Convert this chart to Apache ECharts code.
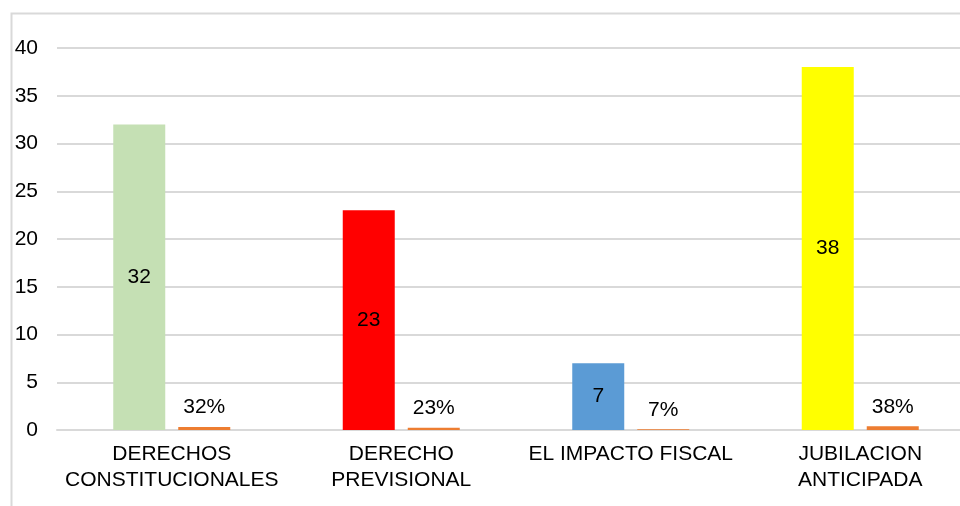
<!DOCTYPE html>
<html>
<head>
<meta charset="utf-8">
<script src="https://cdn.jsdelivr.net/npm/echarts@6/dist/echarts.min.js"></script>
<style>
html, body { margin: 0; padding: 0; background: #fff; }
#chart { width: 960px; height: 506px; }
</style>
</head>
<body>
<div id="chart"></div>
<script>
const categories = ['DERECHOS\nCONSTITUCIONALES', 'DERECHO\nPREVISIONAL', 'EL IMPACTO FISCAL', 'JUBILACION\nANTICIPADA']
const counts = [32, 23, 7, 38]
const shares = [0.32, 0.23, 0.07, 0.38]
const barColors = ['#C5E0B4', '#FF0000', '#5B9BD5', '#FFFF00']
const yTicks = { min: 0, max: 40, interval: 5 }

const font = 'Liberation Sans, Arial, sans-serif'
const chart = echarts.init(document.getElementById('chart'))
chart.setOption({
    animation: false,
    graphic: [{
        type: 'rect',
        shape: { x: 11.5, y: 13.5, width: 1000, height: 600 },
        style: { fill: 'none', stroke: '#d9d9d9', lineWidth: 2 },
        silent: true
    }],
    // plot area runs past the right edge, like the cropped original
    grid: { left: 57, right: -15, top: 48, bottom: 76, containLabel: false, outerBoundsMode: 'none' },
    xAxis: {
        type: 'category',
        data: categories,
        axisTick: { show: false },
        axisLine: { lineStyle: { color: '#d9d9d9', width: 2 } },
        axisLabel: { color: '#000', fontFamily: font, fontSize: 21, lineHeight: 26, margin: 11, interval: 0 }
    },
    yAxis: {
        type: 'value',
        min: yTicks.min,
        max: yTicks.max,
        interval: yTicks.interval,
        axisLine: { show: false },
        axisTick: { show: false },
        splitLine: { lineStyle: { color: '#d9d9d9', width: 2 } },
        axisLabel: { color: '#000', fontFamily: font, fontSize: 21, margin: 19 }
    },
    series: [
        {
            type: 'bar',
            data: counts.map((v, i) => ({ value: v, itemStyle: { color: barColors[i] } })),
            barWidth: 52,
            barGap: '25%',
            label: { show: true, position: 'inside', color: '#000', fontFamily: font, fontSize: 21 }
        },
        {
            type: 'bar',
            data: shares,
            barWidth: 52,
            itemStyle: { color: '#ED7D31' },
            label: {
                show: true,
                position: 'top',
                distance: 9,
                color: '#000',
                fontFamily: font,
                fontSize: 21,
                formatter: p => Math.round(p.value * 100) + '%'
            }
        }
    ]
})
</script>
</body>
</html>
